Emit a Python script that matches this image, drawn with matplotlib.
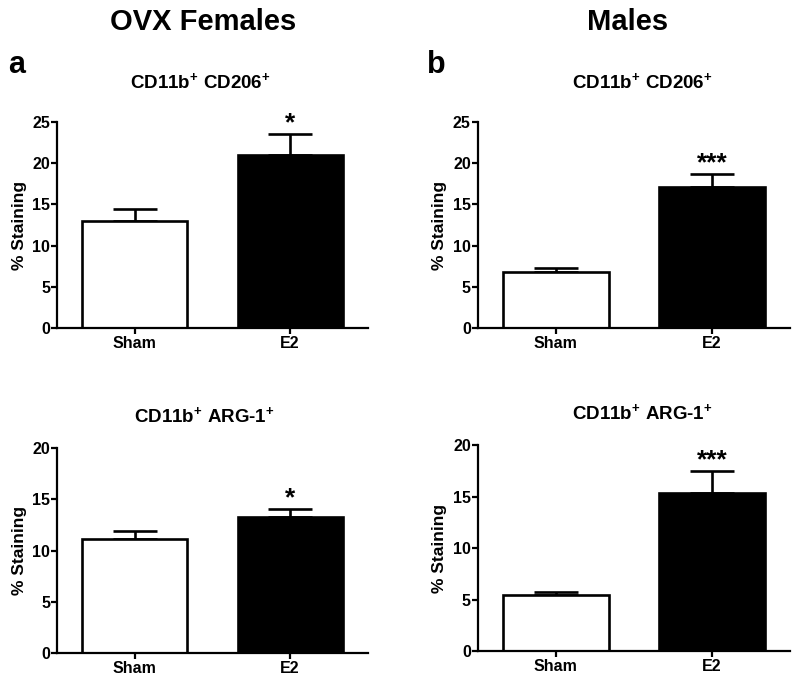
import numpy as np
import matplotlib
matplotlib.use("Agg")
import matplotlib.pyplot as plt

plt.rcParams['font.family'] = ['Liberation Sans', 'DejaVu Sans']
plt.rcParams['font.weight'] = 'bold'
plt.rcParams['mathtext.fontset'] = 'custom'
plt.rcParams['mathtext.rm'] = 'Liberation Sans:bold'
plt.rcParams['mathtext.bf'] = 'Liberation Sans:bold'

grupos = ["Sham", "E2"]

# valores (media e erro padrao, % staining)
fem_cd206 = [13.0, 21.0]
fem_cd206_err = [1.5, 2.5]
mach_cd206 = [6.8, 17.15]
mach_cd206_err = [0.45, 1.55]
fem_arg1 = [11.1, 13.3]
fem_arg1_err = [0.8, 0.8]
mach_arg1 = [5.45, 15.4]
mach_arg1_err = [0.25, 2.1]

estrelas = {"fem_cd206": "*", "mach_cd206": "***", "fem_arg1": "*", "mach_arg1": "***"}

t_cd206 = "CD11b$^{+}$ CD206$^{+}$"
t_arg1 = "CD11b$^{+}$ ARG-1$^{+}$"

paineis = [
    # chave, valores, erros, ymax, titulo, x do titulo, y do titulo, posicao
    ("fem_cd206", fem_cd206, fem_cd206_err, 25, t_cd206, 0.46, 1.19, [0.0717, 0.516, 0.391, 0.304]),
    ("mach_cd206", mach_cd206, mach_cd206_err, 25, t_cd206, 0.526, 1.19, [0.601, 0.516, 0.393, 0.304]),
    ("fem_arg1", fem_arg1, fem_arg1_err, 20, t_arg1, 0.473, 1.155, [0.0717, 0.037, 0.391, 0.302]),
    ("mach_arg1", mach_arg1, mach_arg1_err, 20, t_arg1, 0.526, 1.155, [0.601, 0.040, 0.393, 0.303]),
]

fig = plt.figure(figsize=(7.95, 6.78), dpi=100)

x = np.array([1.0, 3.0])
for chave, vals, errs, ymax, titulo, tx, ty, pos in paineis:
    ax = fig.add_axes(pos)
    ax.bar(x, vals, width=1.35, color=["white", "black"], edgecolor="black", linewidth=1.9, zorder=2)
    ax.errorbar(x, vals, yerr=[np.zeros(2), errs], fmt='none', ecolor="black",
                elinewidth=1.9, capsize=16, capthick=1.9, zorder=1)
    ax.annotate(estrelas[chave], (x[1], vals[1] + errs[1]), xytext=(0, -1),
                textcoords="offset points", ha="center", va="bottom", fontsize=19, fontweight="bold")
    ax.set_xlim(0, 4)
    ax.set_ylim(0, ymax)
    ax.set_yticks(np.arange(0, ymax + 1, 5))
    ax.set_xticks(x)
    ax.set_xticklabels(grupos)
    ax.spines["top"].set_visible(False)
    ax.spines["right"].set_visible(False)
    ax.spines["left"].set_linewidth(1.6)
    ax.spines["bottom"].set_linewidth(1.6)
    ax.tick_params(axis="both", width=1.6, length=4, labelsize=11.5)
    ax.tick_params(axis="x", pad=1.5)
    ax.tick_params(axis="y", pad=1)
    for lab in ax.get_xticklabels() + ax.get_yticklabels():
        lab.set_fontweight("bold")
    ax.set_ylabel("% Staining", fontsize=12.5, fontweight="bold", labelpad=4)
    ax.text(tx, ty, titulo, transform=ax.transAxes, ha="center", va="center",
            fontsize=13.5, fontweight="bold")

fig.text(0.255, 0.968, "OVX Females", ha="center", va="center", fontsize=21, fontweight="bold")
fig.text(0.789, 0.968, "Males", ha="center", va="center", fontsize=21, fontweight="bold")
fig.text(0.010, 0.904, "a", ha="left", va="center", fontsize=22, fontweight="bold")
fig.text(0.537, 0.904, "b", ha="left", va="center", fontsize=22, fontweight="bold")

fig.savefig("out.png", dpi=100)
